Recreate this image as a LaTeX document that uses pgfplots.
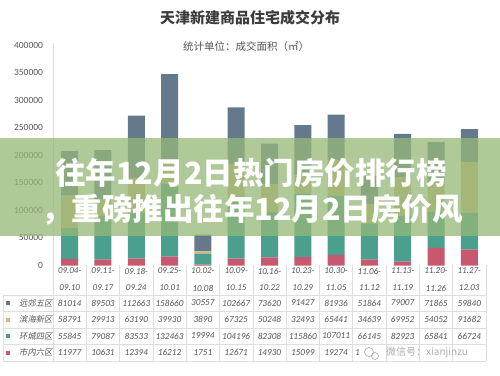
\documentclass[border=0pt]{standalone}
\usepackage{pgfplots}
\pgfplotsset{compat=1.18}
\usepackage{fontspec}
\setmainfont{Carlito}
\newfontfamily\cjk{Noto Sans CJK SC}
\newfontfamily\cjksl{Noto Sans CJK SC}[FakeSlant=0.18]
\definecolor{cslate}{RGB}{100,122,140}
\definecolor{ctan}{RGB}{212,182,122}
\definecolor{cteal}{RGB}{74,160,140}
\definecolor{cpink}{RGB}{200,88,112}
\definecolor{cgrid}{RGB}{222,222,222}
\definecolor{ctext}{RGB}{85,85,85}
\definecolor{cband}{RGB}{150,184,120}
\begin{document}
\begin{tikzpicture}[x=1pt,y=-1pt]
\useasboundingbox (0,0) rectangle (500,375);
\fill[white] (0,0) rectangle (500,375);
\begin{axis}[at={(53pt,-265.5pt)}, anchor=south west, scale only axis,
  width=433pt, height=220.5pt, xmin=-0.5, xmax=12.5, ymin=0, ymax=400000,
  ybar stacked, bar width=17pt,
  axis x line=none, axis y line*=left, y axis line style={draw=none},
  ytick={0,50000,...,400000}, major tick length=0, scaled y ticks=false,
  /pgf/number format/.cd, fixed, 1000 sep={}, assume math mode=true, /pgfplots/.cd,
  yticklabel style={font=\fontsize{9.5}{10}\selectfont, text=ctext, xshift=-6.5pt},
  clip=false]
\addplot[fill=cpink, draw=none] coordinates {(0,11977) (1,10631) (2,12394) (3,16212) (4,1751) (5,12671) (6,14930) (7,15099) (8,19274) (9,10500) (10,7000) (11,32000) (12,29000)};
\addplot[fill=cteal, draw=none] coordinates {(0,55845) (1,79087) (2,83533) (3,132463) (4,19994) (5,104196) (6,82308) (7,115860) (8,107011) (9,66145) (10,82923) (11,65841) (12,66724)};
\addplot[fill=ctan, draw=none] coordinates {(0,58791) (1,29913) (2,63190) (3,39930) (4,3890) (5,67325) (6,50248) (7,32493) (8,65441) (9,34639) (10,69952) (11,54052) (12,91682)};
\addplot[fill=cslate, draw=none] coordinates {(0,81014) (1,89503) (2,112663) (3,158660) (4,30557) (5,102667) (6,73620) (7,91427) (8,81936) (9,51864) (10,79007) (11,71865) (12,59840)};
\end{axis}
% axis line and table grid
\draw[cgrid, line width=0.6pt] (53,43) -- (53,361);
\foreach \k in {1,...,13} \draw[cgrid, line width=0.6pt] ({53+33.3*\k},265) -- ({53+33.3*\k},361);
\foreach \yy in {295,311.5,328,344.5,361} \draw[cgrid, line width=0.6pt] (3,\yy) -- (486,\yy);
\draw[cgrid, line width=0.6pt] (3,295) -- (3,361);
% header
\foreach \a/\b [count=\i from 0] in {09.04-/09.10,09.11-/09.17,09.18-/09.24,09.25-/10.01,10.02-/10.08,10.09-/10.15,10.16-/10.22,10.23-/10.29,10.30-/11.05,11.06-/11.12,11.13-/11.19,11.20-/11.26,11.27-/12.03}{
  \node[font=\itshape\fontsize{9}{10}\selectfont, text=ctext] at ({69.65+33.3*\i},271) {\a};
  \node[font=\itshape\fontsize{9}{10}\selectfont, text=ctext] at ({69.65+33.3*\i},288) {\b};
}
% row labels
\foreach \c/\t/\yy in {cslate/远郊五区/303, ctan/滨海新区/319.7, cteal/环城四区/336, cpink/市内六区/352.7}{
  \fill[\c] (5.5,\yy-2) rectangle (9.5,\yy+2);
  \node[anchor=west, font=\cjksl\fontsize{8.3}{9}\selectfont, text=ctext, inner sep=0] at (19,\yy) {\t};
}
% values
\foreach \v [count=\i from 0] in {81014,89503,112663,158660,30557,102667,73620,91427,81936,51864,79007,71865,59840}
  \node[font=\itshape\fontsize{9.2}{10}\selectfont, text=ctext] at ({69.65+33.3*\i},303) {\v};
\foreach \v [count=\i from 0] in {58791,29913,63190,39930,3890,67325,50248,32493,65441,34639,69952,54052,91682}
  \node[font=\itshape\fontsize{9.2}{10}\selectfont, text=ctext] at ({69.65+33.3*\i},319.7) {\v};
\foreach \v [count=\i from 0] in {55845,79087,83533,132463,19994,104196,82308,115860,107011,66145,82923,65841,66724}
  \node[font=\itshape\fontsize{9.2}{10}\selectfont, text=ctext] at ({69.65+33.3*\i},336) {\v};
\foreach \v [count=\i from 0] in {11977,10631,12394,16212,1751,12671,14930,15099,19274}
  \node[font=\itshape\fontsize{9.2}{10}\selectfont, text=ctext] at ({69.65+33.3*\i},352.7) {\v};
\node[anchor=west, font=\itshape\fontsize{9.2}{10}\selectfont, text=ctext, inner sep=0] at (355,352.7) {1};
% watermark
\draw[gray!60, line width=0.7pt] (369,352) circle (4.5);
\draw[gray!60, line width=0.7pt] (375,356) circle (3.5);
\node[anchor=west, font=\cjk\fontsize{10}{11}\selectfont, text=gray!65, inner sep=0] at (386,352.5) {微信号：xianjinzu};
% titles
\node[font=\cjk\bfseries\fontsize{15}{16}\selectfont, text={rgb,255:red,60;green,60;blue,60}] at (250,18) {天津新建商品住宅成交分布};
\node[font=\cjk\fontsize{10.5}{11}\selectfont, text=ctext] at (246,46) {统计单位：成交面积（㎡）};
% overlay band
\fill[cband, opacity=0.75] (0,138) rectangle (500,236);
\node[font=\cjk\bfseries\fontsize{30.5}{31}\selectfont, text=white] at (251,173) {往年12月2日热门房价排行榜};
\node[font=\cjk\bfseries\fontsize{30.5}{31}\selectfont, text=white] at (252,210) {，重磅推出往年12月2日房价风};
\end{tikzpicture}
\end{document}
